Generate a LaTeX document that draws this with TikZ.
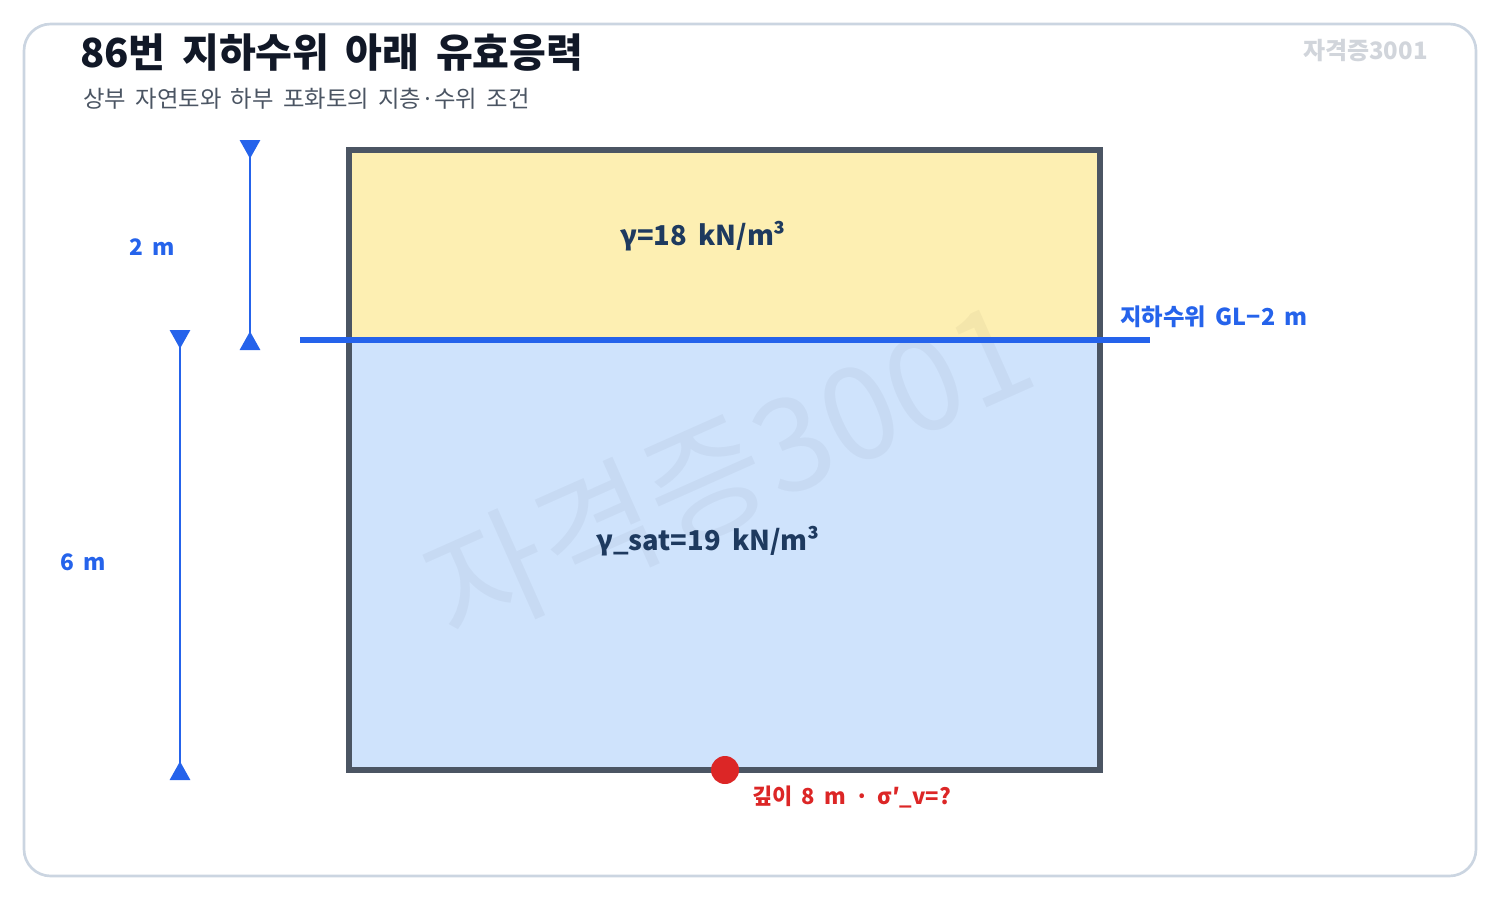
\documentclass[tikz,border=0pt]{standalone}
\usepackage{fontspec}
\setmainfont[WordSpace=1.8]{Noto Sans CJK KR}
\usetikzlibrary{arrows.meta}
\definecolor{framegray}{HTML}{CBD5E1}
\definecolor{titleink}{HTML}{111827}
\definecolor{subink}{HTML}{4B5563}
\definecolor{markgray}{HTML}{D1D5DB}
\definecolor{boxedge}{HTML}{4B5563}
\definecolor{sandfill}{HTML}{FDEFB2}
\definecolor{satfill}{HTML}{CFE3FC}
\definecolor{wtblue}{HTML}{2563EB}
\definecolor{soilink}{HTML}{1E3A5F}
\definecolor{ptred}{HTML}{DC2626}
\tikzset{dimline/.style={draw=wtblue, line width=2.2pt,
      {Triangle[reversed,width=15pt,length=14pt]}-{Triangle[reversed,width=15pt,length=14pt]}},
  dimtext/.style={text=wtblue, font=\bfseries\fontsize{17}{19}\selectfont},
  soiltext/.style={text=soilink, font=\bfseries\fontsize{20.5}{23}\selectfont}}

\begin{document}
\begin{tikzpicture}[x=0.75pt, y=-0.75pt, every node/.style={inner sep=0pt}]
		\useasboundingbox (0,0) rectangle (1500,900);
		\draw[framegray, line width=2pt, rounded corners=20pt] (24,24) rectangle (1476,876);
		\node[anchor=west, text=titleink, font=\bfseries\fontsize{30}{34}\selectfont] (title) at (80,53) {86번 지하수위 아래 유효응력};
		\node[anchor=west, text=subink, font=\fontsize{17.5}{20}\selectfont] (subtitle) at (83,99) {상부 자연토와 하부 포화토의 지층·수위 조건};
		\node[anchor=east, text=markgray, font=\bfseries\fontsize{18}{20}\selectfont] (mark) at (1428,51) {자격증3001};
		% soil layers
		\fill[sandfill] (349,150) rectangle (1100,340);
		\fill[satfill] (349,340) rectangle (1100,770);
		\node[rotate=24, text=black, opacity=0.035, font=\fontsize{97}{100}\selectfont] (bigmark) at (728,470) {자격증3001};
		\draw[boxedge, line width=3.8pt] (349,150) rectangle (1100,770);
		\node[soiltext] (gamma) at (703,236) {γ=18 kN/m³};
		\node[soiltext] (gammasat) at (708,541) {γ\_sat=19 kN/m³};
		% water table
		\coordinate (wtleft) at (300,340);
		\coordinate (wtright) at (1150,340);
		\draw[wtblue, line width=4.5pt] (wtleft) -- (wtright);
		\node[dimtext, anchor=west, font=\bfseries\fontsize{17.5}{19}\selectfont] (wtlabel) at (1120,317) {지하수위 GL−2 m};
		% dimensions
		\coordinate (twotop) at (250,140);
		\coordinate (twobot) at (250,350);
		\coordinate (sixtop) at (180,330);
		\coordinate (sixbot) at (180,780);
		\draw[dimline] (twotop) -- (twobot);
		\draw[dimline] (sixtop) -- (sixbot);
		\node[dimtext] (dimtwo) at (152,247) {2 m};
		\node[dimtext] (dimsix) at (83,562) {6 m};
		% point of interest
		\node[circle, fill=ptred, minimum size=28pt*0.75] (pt) at (725,770) {};
		\node[anchor=west, text=ptred, font=\bfseries\fontsize{16.5}{18}\selectfont] (ptlabel) at (752,797) {깊이 8 m · σ′\_v=?};
		\end{tikzpicture}
\end{document}
